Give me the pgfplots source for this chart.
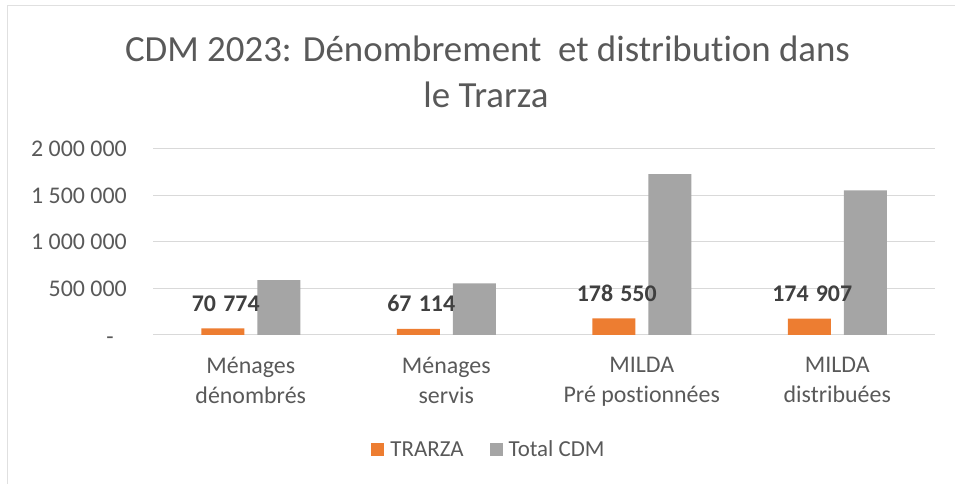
\documentclass[border=0pt]{standalone}
\usepackage{fontspec}
\setmainfont{Carlito}[Ligatures=NoCommon]
\usepackage{pgfplots}
\pgfplotsset{compat=1.18}
\definecolor{corange}{HTML}{ED7D31}
\definecolor{cgray}{HTML}{A5A5A5}
\definecolor{gridc}{HTML}{D9D9D9}
\definecolor{txt}{HTML}{595959}
\definecolor{lbl}{HTML}{404040}

\begin{document}
\begin{tikzpicture}[x=1bp,y=1bp]
\path[use as bounding box] (0,0) rectangle (955,484);
% chart frame (only left and top visible)
\draw[color=black!12, line width=1.5bp] (7.5,0) -- (7.5,478.5) -- (955,478.5);
% title
\node[anchor=base, text=txt, font=\fontsize{37}{46}\selectfont, inner sep=0pt] at (487.5,422.3) {CDM 2023: Dénombrement\ \ et distribution dans};
\node[anchor=base, text=txt, font=\fontsize{37}{46}\selectfont, inner sep=0pt] at (486,376) {le Trarza};
\begin{axis}[
    at={(153bp,149bp)}, anchor=south west,
    width=782bp, height=186bp, scale only axis,
    xmin=-0.5, xmax=3.5, ymin=0, ymax=2000000,
    scaled y ticks=false,
    ybar, bar width=43bp,
    axis line style={draw=none},
    major tick length=0pt,
    ymajorgrids, grid style={gridc, line width=1bp},
    /pgf/number format/assume math mode=true,
    ytick={0,500000,1000000,1500000,2000000},
    yticklabels={\mbox{\vphantom{0}\smash{\raisebox{-2bp}{-}}\hspace{0.55em}}, \mbox{500 000}, \mbox{1 000 000}, \mbox{1 500 000}, \mbox{2 000 000}},
    yticklabel style={font=\fontsize{24}{29}\selectfont, text=txt, anchor=east, inner sep=0pt, xshift=-26bp},
    xtick={0,1,2,3},
    xticklabels={Ménages\\dénombrés, Ménages\\servis, MILDA\\Pré postionnées, MILDA\\distribuées},
    xticklabel style={font=\fontsize{24}{30}\selectfont, text=txt, align=center, anchor=north, inner sep=0pt, yshift=-22bp},
    legend style={at={(axis description cs:0.4284,-0.6156)}, anchor=center, draw=none, fill=none,
        font=\fontsize{23}{28}\selectfont, text=txt,
        nodes={inner sep=0pt, anchor=center, text height=15bp, text depth=0bp},
        /tikz/every odd column/.append style={column sep=6bp},
        /tikz/every even column/.append style={column sep=26bp}},
    legend columns=2,
    legend image code/.code={\fill[#1, draw=none] (0bp,-6.5bp) rectangle (13bp,6.5bp);},
]
% TRARZA
\addplot[fill=corange, draw=none, bar shift=-28bp,
    nodes near coords,
    nodes near coords style={font=\bfseries\fontsize{24}{29}\selectfont, color=lbl, anchor=base,
        inner sep=0pt, yshift=17bp, xshift=3bp,
        /pgf/number format/.cd, fixed, precision=0, 1000 sep={\hspace{0.3em}}}]
    coordinates {(0,70774) (1,67114) (2,178550) (3,174907)};
% Total CDM
\addplot[fill=cgray, draw=none, bar shift=28bp]
    coordinates {(0,590000) (1,554000) (2,1730000) (3,1554000)};
\legend{TRARZA, Total CDM}
\end{axis}
\end{tikzpicture}
\end{document}
